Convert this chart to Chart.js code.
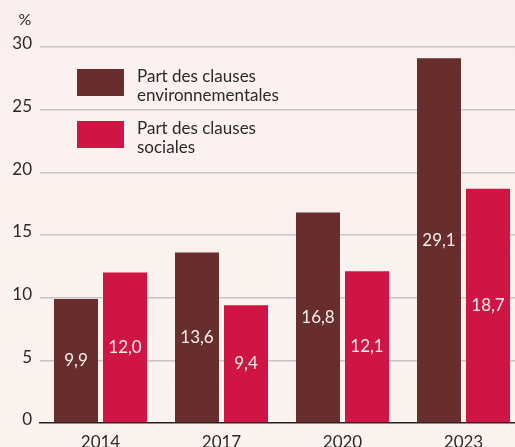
<!DOCTYPE html>
<html lang="fr">
<head>
<meta charset="utf-8">
<script src="https://cdn.jsdelivr.net/npm/chart.js@4.4.1/dist/chart.umd.min.js"></script>
<style>
  html, body { margin: 0; padding: 0; overflow: hidden; }
  body {
    width: 515px; height: 447px;
    background: linear-gradient(to bottom, #fbf0f0 0%, #faf3ee 100%);
  }
  #wrap { width: 524px; height: 447px; position: relative; }
</style>
</head>
<body>
<div id="wrap"><canvas id="graphique"></canvas></div>
<script>
// Données
const annees = ["2014", "2017", "2020", "2023"];
const clausesEnvironnementales = [9.9, 13.6, 16.8, 29.1];
const clausesSociales = [12.0, 9.4, 12.1, 18.7];
const libelleEnv = ["Part des clauses", "environnementales"];
const libelleSoc = ["Part des clauses", "sociales"];

const couleurs = {
  env: "#682d2d",
  soc: "#ce1543",
  texte: "#2a2a2a",
  grille: "#c6c4c4"
};

const police = "Lato, 'Noto Sans', sans-serif";

// Étiquettes de valeurs + légende + "%"
const decor = {
  id: "decor",
  afterDatasetsDraw(chart) {
    const ctx = chart.ctx;
    ctx.save();
    ctx.font = "17px " + police;
    ctx.fillStyle = "#f8eeee";
    ctx.textAlign = "center";
    ctx.textBaseline = "middle";
    chart.data.datasets.forEach((ds, i) => {
      chart.getDatasetMeta(i).data.forEach((bar, j) => {
        const txt = ds.data[j].toFixed(1).replace(".", ",");
        ctx.fillText(txt, bar.x, (bar.y + bar.base) / 2);
      });
    });

    // légende
    const items = [[couleurs.env, libelleEnv, 69], [couleurs.soc, libelleSoc, 121]];
    items.forEach(([c, lignes, y]) => {
      ctx.fillStyle = c;
      ctx.fillRect(77, y, 47, 27);
      ctx.fillStyle = couleurs.texte;
      ctx.textAlign = "left";
      ctx.font = "17px " + police;
      lignes.forEach((l, k) => ctx.fillText(l, 137, y + 8 + k * 19));
    });

    // unité
    ctx.fillStyle = couleurs.texte;
    ctx.textAlign = "center";
    ctx.font = "16px " + police;
    ctx.fillText("%", 25, 20);
    ctx.restore();
  }
};

new Chart(document.getElementById("graphique"), {
  type: "bar",
  data: {
    labels: annees,
    datasets: [
      { label: libelleEnv.join(" "), data: clausesEnvironnementales, backgroundColor: couleurs.env },
      { label: libelleSoc.join(" "), data: clausesSociales, backgroundColor: couleurs.soc }
    ]
  },
  options: {
    responsive: true,
    maintainAspectRatio: false,
    animation: false,
    categoryPercentage: 0.81,
    barPercentage: 0.898,
    layout: { padding: { top: 47, right: 0, left: 0, bottom: 0 } },
    plugins: {
      legend: { display: false },
      tooltip: { enabled: false }
    },
    scales: {
      x: {
        afterFit(scale) { scale.height = 24; },
        grid: { display: false },
        border: { display: true, color: "#222", width: 1.5 },
        ticks: { color: couleurs.texte, font: { family: police, size: 17 }, padding: 1 }
      },
      y: {
        min: 0,
        max: 30,
        afterFit(scale) { scale.width = 40; },
        border: { display: false },
        grid: {
          drawTicks: false,
          lineWidth: 1.5,
          color: ctx => ctx.tick && ctx.tick.value === 0 ? "rgba(0,0,0,0)" : couleurs.grille
        },
        ticks: { stepSize: 5, color: couleurs.texte, font: { family: police, size: 17 }, padding: 8, labelOffset: -3 }
      }
    }
  },
  plugins: [decor]
});
</script>
</body>
</html>
